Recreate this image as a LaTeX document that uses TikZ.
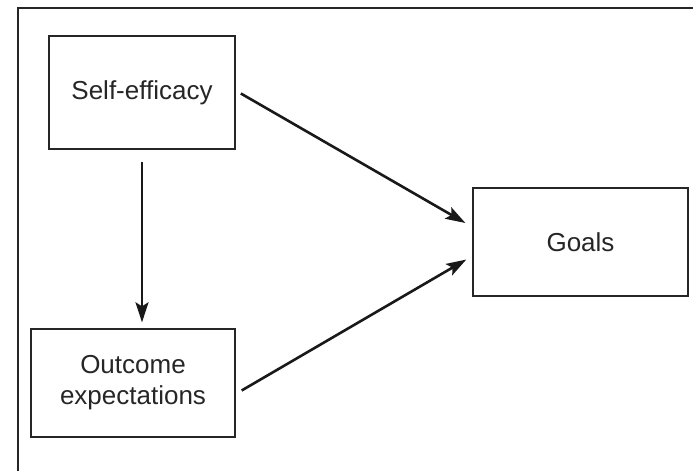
\documentclass[tikz,border=0pt]{standalone}
\usepackage{fontspec}
\setmainfont{Liberation Sans}
\usetikzlibrary{arrows.meta}

\begin{document}
\begin{tikzpicture}[x=1pt, y=-1pt, >={Stealth[length=20pt,width=13pt,inset=4pt]},
    factor/.style={draw=black!85, line width=1.3pt, text=black!85,
      align=center, font=\fontsize{26}{31}\selectfont, inner sep=0pt},
    link/.style={->, line width=2.6pt, draw=black!90}]

    \useasboundingbox (0,0) rectangle (693,471);

    % Frame (top and left only)
    \draw[line width=2.6pt, black!85] (18,471) -- (18,8) -- (693,8);

    % Factors
    \node[factor, minimum width=186pt, minimum height=113pt] (selfeff) at (142,92.5) {Self-efficacy};
    \node[factor, minimum width=204pt, minimum height=108pt] (outcome) at (133,383) {Outcome\\expectations};
    \node[factor, minimum width=215pt, minimum height=108pt] (goals) at (580.5,242) {Goals};

    % Paths
    \draw[link, shorten <=12pt, shorten >=6pt] (selfeff.south) -- (selfeff.south |- outcome.north);
    \draw[link, shorten <=6pt, shorten >=8pt] ([yshift=2pt]selfeff.east) -- ([yshift=15pt]goals.west);
    \draw[link, shorten <=7pt, shorten >=7pt] ([yshift=-11pt]outcome.east) -- ([yshift=-14pt]goals.west);
\end{tikzpicture}
\end{document}
